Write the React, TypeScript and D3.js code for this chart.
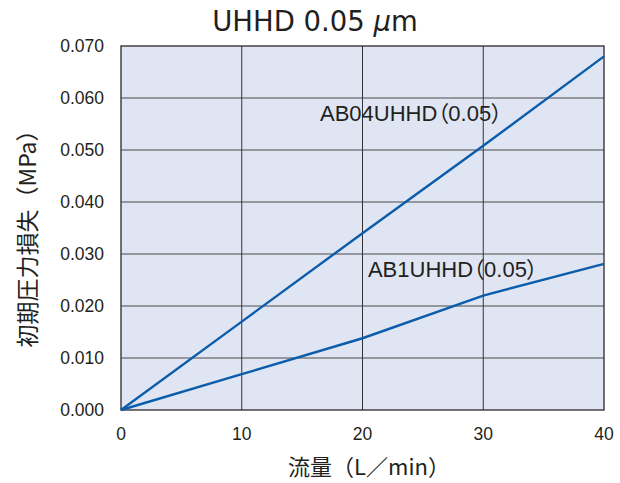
import React, { useEffect, useRef } from "react";
import * as d3 from "d3";

const flowTicks = [0, 10, 20, 30, 40];
const pressureTicks = [0, 0.01, 0.02, 0.03, 0.04, 0.05, 0.06, 0.07];

const ab04Flow = [0, 10, 20, 30, 40];
const ab04Loss = [0, 0.017, 0.034, 0.0508, 0.068];

const ab1Flow = [0, 10, 20, 30, 40];
const ab1Loss = [0, 0.0069, 0.0138, 0.022, 0.0281];

const seriesLabels = ["AB04UHHD（0.05）", "AB1UHHD（0.05）"];

const App: React.FC = () => {
  const ref = useRef<SVGSVGElement>(null);

  useEffect(() => {
    if (!ref.current) return;
    const svg = d3.select(ref.current);
    svg.selectAll("*").remove();

    const margin = { top: 46, right: 16, bottom: 73, left: 121 };
    const W = 620, H = 483;
    const width = W - margin.left - margin.right;
    const height = H - margin.top - margin.bottom;
    const font = "'Liberation Sans', Arial, 'Noto Sans CJK JP', sans-serif";
    const jpFont = "'Noto Sans CJK JP', 'Liberation Sans', sans-serif";
    const ink = "#231f20";

    const x = d3.scaleLinear().domain([0, 40]).range([0, width]);
    const y = d3.scaleLinear().domain([0, 0.07]).range([height, 0]);

    const g = svg.append("g").attr("transform", `translate(${margin.left},${margin.top})`);

    // background
    g.append("rect").attr("width", width).attr("height", height).attr("fill", "#dfe5f2");

    // horizontal grid
    g.append("g")
      .selectAll("line")
      .data(pressureTicks.slice(1, -1))
      .join("line")
      .attr("x1", 0).attr("x2", width)
      .attr("y1", (d) => y(d)).attr("y2", (d) => y(d))
      .attr("stroke", "#4a4a4a").attr("stroke-width", 1);

    // vertical grid
    g.append("g")
      .selectAll("line")
      .data(flowTicks.slice(1, -1))
      .join("line")
      .attr("x1", (d) => x(d)).attr("x2", (d) => x(d))
      .attr("y1", 0).attr("y2", height)
      .attr("stroke", "#333").attr("stroke-width", 1);

    // frame
    g.append("rect").attr("width", width).attr("height", height)
      .attr("fill", "none").attr("stroke", "#2a2a2a").attr("stroke-width", 1.3);

    // tick labels
    g.append("g")
      .selectAll("text")
      .data(pressureTicks)
      .join("text")
      .attr("x", -17).attr("y", (d) => y(d)).attr("dy", "0.36em")
      .attr("text-anchor", "end")
      .attr("font-family", font).attr("font-size", 17.5).attr("fill", ink)
      .text((d) => d3.format(".3f")(d));

    g.append("g")
      .selectAll("text")
      .data(flowTicks)
      .join("text")
      .attr("x", (d) => x(d)).attr("y", height + 30)
      .attr("text-anchor", "middle")
      .attr("font-family", font).attr("font-size", 17.5).attr("fill", ink)
      .text((d) => d);

    // lines
    const line = d3.line<[number, number]>().x((d) => x(d[0])).y((d) => y(d[1]));
    const series = [
      ab04Flow.map((f, i) => [f, ab04Loss[i]] as [number, number]),
      ab1Flow.map((f, i) => [f, ab1Loss[i]] as [number, number]),
    ];
    g.append("g")
      .selectAll("path")
      .data(series)
      .join("path")
      .attr("d", (d) => line(d))
      .attr("fill", "none")
      .attr("stroke", "#0b5cab")
      .attr("stroke-width", 2.4);

    // series labels
    const labelPos: [number, number][] = [[16.48, 0.0556], [20.45, 0.0256]];
    g.append("g")
      .selectAll("text")
      .data(seriesLabels)
      .join("text")
      .attr("x", (_, i) => x(labelPos[i][0]))
      .attr("y", (_, i) => y(labelPos[i][1]))
      .attr("font-family", font).attr("font-size", 22).attr("fill", ink)
      .style("font-feature-settings", "'palt'")
      .text((d) => d);

    // title
    const title = svg.append("text")
      .attr("x", 315).attr("y", 31)
      .attr("text-anchor", "middle")
      .attr("font-family", "'DejaVu Sans', sans-serif").attr("font-size", 27.5).attr("fill", ink);
    title.append("tspan").text("UHHD 0.05 ");
    title.append("tspan").attr("font-style", "italic").text("μ");
    title.append("tspan").text("m");

    // axis titles
    svg.append("text")
      .attr("x", 369).attr("y", 475)
      .attr("text-anchor", "middle")
      .attr("font-family", jpFont).attr("font-size", 22).attr("fill", ink)
      .text("流量（L／min）");

    svg.append("text")
      .attr("transform", `translate(36,233) rotate(-90)`)
      .attr("text-anchor", "middle")
      .attr("font-family", jpFont).attr("font-size", 23).attr("fill", ink)
      .text("初期圧力損失（MPa）");
  }, []);

  return (
    <svg
      ref={ref}
      width={620}
      height={483}
      style={{ display: "block", position: "fixed", top: 0, left: 0, background: "#fff" }}
    />
  );
};

export default App;
